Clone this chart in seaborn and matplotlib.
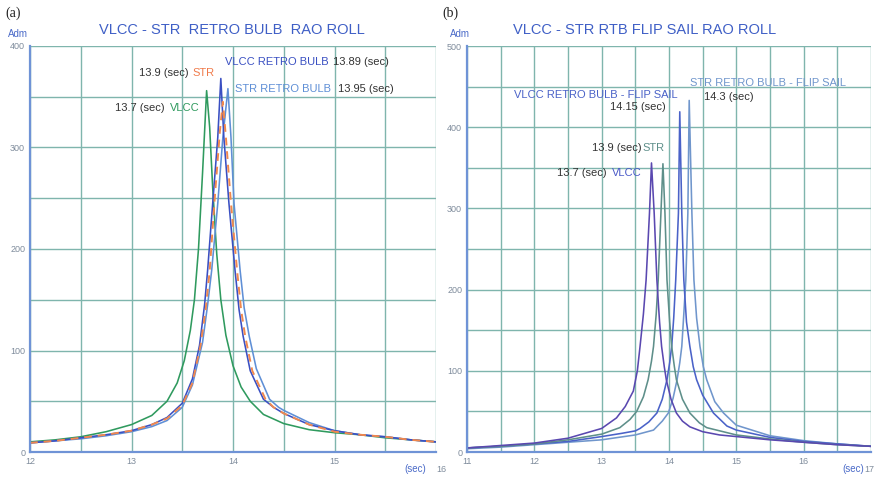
import matplotlib
matplotlib.use("Agg")
import matplotlib.pyplot as plt
import seaborn as sns
import pandas as pd

# ---------------- data: panel (a) ----------------
a_vlcc_x = [12, 12.25, 12.5, 12.75, 13, 13.2, 13.35, 13.45, 13.52, 13.58, 13.62, 13.66, 13.7,
            13.74, 13.77, 13.8, 13.84, 13.88, 13.93, 14.0, 14.08, 14.17, 14.3, 14.5, 14.75,
            15, 15.25, 15.5, 15.75, 16]
a_vlcc_y = [10, 12, 15, 20, 27, 36, 50, 68, 90, 120, 150, 200, 275,
            356, 320, 260, 195, 150, 115, 85, 64, 50, 37, 28, 22,
            19, 17, 14, 12, 10]

a_vlccrb_x = [12, 12.25, 12.5, 12.75, 13, 13.2, 13.35, 13.5, 13.6, 13.67, 13.72, 13.75, 13.8,
              13.85, 13.88, 13.91, 13.96, 14.02, 14.06, 14.1, 14.17, 14.3, 14.4, 14.5, 14.75,
              15, 15.25, 15.5, 15.75, 16]
a_vlccrb_y = [9, 11, 14, 17, 21, 27, 34, 48, 72, 105, 145, 179, 245,
              310, 368, 310, 245, 179, 140, 114, 80, 52, 44, 38, 27,
              21, 17, 15, 12, 10]

a_str_x = [12, 12.25, 12.5, 12.75, 13, 13.2, 13.35, 13.5, 13.6, 13.68, 13.73, 13.77, 13.82,
           13.87, 13.9, 13.93, 13.98, 14.04, 14.08, 14.12, 14.19, 14.32, 14.4, 14.5, 14.75,
           15, 15.25, 15.5, 15.75, 16]
a_str_y = [9, 11, 14, 17, 21, 27, 33, 46, 68, 105, 140, 178, 250,
           315, 345, 310, 245, 179, 140, 114, 80, 52, 44, 38, 27,
           20, 17, 15, 12, 10]

a_strrb_x = [12, 12.25, 12.5, 12.75, 13, 13.2, 13.35, 13.5, 13.6, 13.7, 13.75, 13.79, 13.85,
             13.9, 13.95, 13.98, 14.01, 14.07, 14.11, 14.16, 14.23, 14.36, 14.45, 14.5, 14.75,
             15, 15.25, 15.5, 15.75, 16]
a_strrb_y = [9, 11, 13, 16, 20, 25, 31, 44, 66, 108, 145, 179, 245,
             310, 358, 310, 245, 179, 142, 114, 82, 52, 44, 41, 29,
             21, 17, 15, 12, 10]

# ---------------- data: panel (b) ----------------
b_vlcc_x = [11, 11.5, 12, 12.5, 13, 13.22, 13.35, 13.47, 13.53, 13.57, 13.62, 13.66, 13.71,
            13.74, 13.78, 13.82, 13.86, 13.89, 13.93, 13.96, 14.03, 14.11, 14.2, 14.31,
            14.5, 14.75, 15, 15.5, 16, 16.5, 17]
b_vlcc_y = [5, 8, 11, 17, 29, 42, 56, 75, 100, 130, 170, 212, 294,
            356, 294, 212, 160, 130, 105, 89, 65, 48, 38, 31,
            25, 21, 19, 15, 12, 9, 7]

b_str_x = [11, 11.5, 12, 12.5, 13, 13.27, 13.42, 13.52, 13.62, 13.69, 13.74, 13.77, 13.81,
           13.84, 13.88, 13.91, 13.94, 13.97, 14.01, 14.04, 14.08, 14.11, 14.2, 14.31,
           14.45, 14.56, 15, 15.5, 16, 16.5, 17]
b_str_y = [5, 7, 10, 15, 22, 30, 40, 50, 68, 89, 112, 130, 170,
           212, 294, 355, 294, 212, 160, 130, 105, 89, 65, 48,
           36, 30, 21, 16, 12, 9, 7]

b_vlccfs_x = [11, 11.5, 12, 12.5, 13, 13.3, 13.5, 13.57, 13.7, 13.82, 13.9, 13.97, 14.01,
              14.04, 14.07, 14.1, 14.14, 14.16, 14.19, 14.22, 14.26, 14.31, 14.36, 14.41,
              14.5, 14.66, 14.86, 15, 15.5, 16, 16.5, 17]
b_vlccfs_y = [5, 7, 10, 13, 19, 23, 26, 29, 37, 48, 65, 89, 110,
              130, 165, 212, 294, 419, 294, 212, 160, 130, 105, 89,
              70, 48, 32, 27, 18, 13, 10, 7]

b_strfs_x = [11, 11.5, 12, 12.5, 13, 13.5, 13.77, 13.9, 13.99, 14.06, 14.12, 14.16, 14.19,
             14.22, 14.25, 14.28, 14.3, 14.34, 14.37, 14.41, 14.46, 14.51, 14.56, 14.68,
             14.81, 15, 15.5, 16, 16.5, 17]
b_strfs_y = [4, 6, 9, 12, 15, 21, 27, 38, 48, 66, 89, 110, 130,
             170, 212, 294, 433, 294, 212, 165, 130, 105, 89, 62,
             48, 33, 20, 14, 10, 7]

a_xticks = [12, 13, 14, 15, 16]
a_yticks = [0, 100, 200, 300, 400]
b_xticks = [11, 12, 13, 14, 15, 16, 17]
b_yticks = [0, 100, 200, 300, 400, 500]

title_a = "VLCC - STR  RETRO BULB  RAO ROLL"
title_b = "VLCC - STR RTB FLIP SAIL RAO ROLL"

# ---------------- styling ----------------
sns.set_style("white")
plt.rcParams['font.family'] = ['Liberation Sans', 'DejaVu Sans']

GRID = "#7fb5ad"
SPINE = "#6f93d6"
TICKC = "#7f8c9c"
TITLEC = "#3f5fc6"

fig = plt.figure(figsize=(8.77, 4.8), dpi=100)
ax1 = fig.add_axes([30/877, 1 - 452/480, 406/877, 406/480])
ax2 = fig.add_axes([467/877, 1 - 452/480, 404/877, 406/480])


def draw(ax, x, y, color, lw=1.15, ls="-"):
    df = pd.DataFrame({"x": x, "y": y})
    sns.lineplot(data=df, x="x", y="y", ax=ax, color=color, lw=lw,
                 linestyle=ls, sort=False, estimator=None)


def frame(ax, xmin, xmax, ymax, xt, yt):
    ax.set_xlim(xmin, xmax)
    ax.set_ylim(0, ymax)
    minor_x = [xmin + 0.5 * i for i in range(int((xmax - xmin) / 0.5) + 1)]
    minor_y = [50 * i for i in range(int(ymax / 50) + 1)]
    for gx in minor_x:
        ax.axvline(gx, color=GRID, lw=1.0, zorder=0)
    for gy in minor_y:
        ax.axhline(gy, color=GRID, lw=1.0, zorder=0)
    ax.set_xticks(minor_x)
    ax.set_xticklabels([str(int(v)) if v in xt and v != xmax else "" for v in minor_x])
    ax.set_yticks(minor_y)
    ax.set_yticklabels([str(int(v)) if v in yt else "" for v in minor_y])
    ax.tick_params(axis="both", length=3, width=1, color=SPINE, labelsize=6.5,
                   labelcolor=TICKC, pad=2, direction="inout")
    for s in ["top", "right"]:
        ax.spines[s].set_visible(False)
    for s in ["left", "bottom"]:
        ax.spines[s].set_color(SPINE)
        ax.spines[s].set_linewidth(1.6)


frame(ax1, 12, 16, 400, a_xticks, a_yticks)
frame(ax2, 11, 17, 500, b_xticks, b_yticks)

# panel (a) curves
draw(ax1, a_vlcc_x, a_vlcc_y, "#2f9a5e")
draw(ax1, a_strrb_x, a_strrb_y, "#5f8fd6")
draw(ax1, a_vlccrb_x, a_vlccrb_y, "#3a4fc2")
draw(ax1, a_str_x, a_str_y, "#f0884e", lw=1.4, ls=(0, (4, 3)))

# panel (b) curves
draw(ax2, b_strfs_x, b_strfs_y, "#7096cc")
draw(ax2, b_vlccfs_x, b_vlccfs_y, "#4a62c8")
draw(ax2, b_str_x, b_str_y, "#5e8f8a")
draw(ax2, b_vlcc_x, b_vlcc_y, "#5a48b0")

for ax in (ax1, ax2):
    ax.set_xlabel("")
    ax.set_ylabel("")

# titles and labels
fig.text(232/877, 1 - 30/480, title_a, color=TITLEC, fontsize=10.5,
         ha="center", va="center")
fig.text(645/877, 1 - 30/480, title_b, color=TITLEC, fontsize=10.5,
         ha="center", va="center")
fig.text(5/877, 1 - 13/480, "(a)", fontsize=10, family="Liberation Serif",
         ha="left", va="center", color="#222222")
fig.text(442/877, 1 - 13/480, "(b)", fontsize=10, family="Liberation Serif",
         ha="left", va="center", color="#222222")
fig.text(8/877, 1 - 34/480, "Adm", fontsize=7, color="#4a6ac8",
         ha="left", va="center")
fig.text(450/877, 1 - 34/480, "Adm", fontsize=7, color="#4a6ac8",
         ha="left", va="center")
fig.text(426/877, 1 - 469/480, "(sec)", fontsize=7, color="#4a6ac8",
         ha="right", va="center")
fig.text(436/877, 1 - 469/480, "16", fontsize=6.5, color=TICKC,
         ha="left", va="center")
fig.text(864/877, 1 - 469/480, "(sec)", fontsize=7, color="#4a6ac8",
         ha="right", va="center")
fig.text(864/877, 1 - 469/480, "17", fontsize=6.5, color=TICKC,
         ha="left", va="center")

DARK = "#333333"
fs = 8
# panel (a) annotations
ax1.text(13.56, 373, "13.9 (sec)", color=DARK, fontsize=fs, ha="right", va="center")
ax1.text(13.6, 373, "STR", color="#f07a4a", fontsize=fs, ha="left", va="center")
ax1.text(13.92, 384, "VLCC RETRO BULB", color="#3a50c2", fontsize=fs, ha="left", va="center")
ax1.text(14.99, 384, "13.89 (sec)", color=DARK, fontsize=fs, ha="left", va="center")
ax1.text(14.02, 358, "STR RETRO BULB", color="#5f8fd6", fontsize=fs, ha="left", va="center")
ax1.text(15.03, 358, "13.95 (sec)", color=DARK, fontsize=fs, ha="left", va="center")
ax1.text(13.33, 339, "13.7 (sec)", color=DARK, fontsize=fs, ha="right", va="center")
ax1.text(13.38, 339, "VLCC", color="#2f9a5e", fontsize=fs, ha="left", va="center")

# panel (b) annotations
ax2.text(11.70, 440, "VLCC RETRO BULB - FLIP SAIL", color="#4a62c8", fontsize=fs,
         ha="left", va="center")
ax2.text(13.12, 425, "14.15 (sec)", color=DARK, fontsize=fs, ha="left", va="center")
ax2.text(14.31, 454, "STR RETRO BULB - FLIP SAIL", color="#7096cc", fontsize=fs,
         ha="left", va="center")
ax2.text(14.52, 437, "14.3 (sec)", color=DARK, fontsize=fs, ha="left", va="center")
ax2.text(13.60, 374, "13.9 (sec)", color=DARK, fontsize=fs, ha="right", va="center")
ax2.text(13.61, 374, "STR", color="#5e8f8a", fontsize=fs, ha="left", va="center")
ax2.text(13.08, 344, "13.7 (sec)", color=DARK, fontsize=fs, ha="right", va="center")
ax2.text(13.15, 344, "VLCC", color="#4a5ac8", fontsize=fs, ha="left", va="center")

fig.savefig("out.png", dpi=100)
